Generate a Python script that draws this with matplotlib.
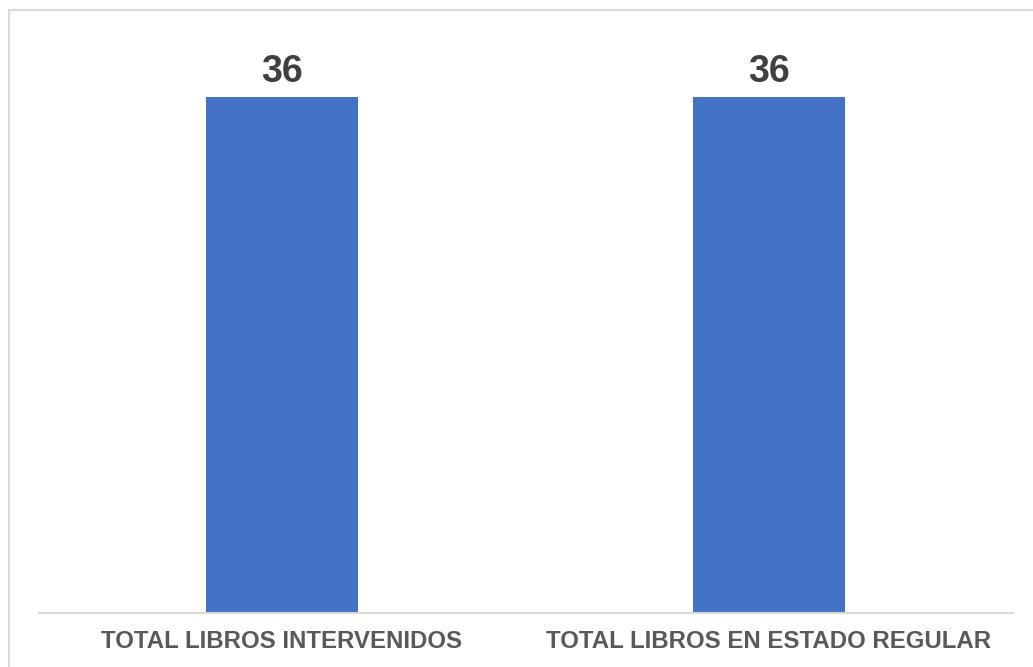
import matplotlib.pyplot as plt
from matplotlib.patches import Rectangle

categories = ["TOTAL LIBROS INTERVENIDOS", "TOTAL LIBROS EN ESTADO REGULAR"]
values = [36, 36]

W, H = 1033, 667
fig = plt.figure(figsize=(W / 100, H / 100), dpi=100)
plt.rcParams['font.family'] = ['Liberation Sans', 'DejaVu Sans']

# chart border (cropped on right/bottom in the original)
fig.patches.append(Rectangle((9 / W, -0.05), 1.1, 1 - 10 / H + 0.05,
                             transform=fig.transFigure, fill=False,
                             edgecolor='#d9d9d9', lw=1.5))

ax_left, ax_right = 38.5, 1012.5
ax_bottom, ax_top = 613, 20
ax = fig.add_axes([ax_left / W, (H - ax_bottom) / H,
                   (ax_right - ax_left) / W, (ax_bottom - ax_top) / H])

x = range(len(categories))
bars = ax.bar(x, values, width=0.312, color='#4472C4')
ax.set_xlim(-0.5, len(categories) - 0.5)
ax.set_ylim(0, 36 * (ax_bottom - ax_top) / (ax_bottom - 97))

for b, v in zip(bars, values):
    ax.annotate(str(v), (b.get_x() + b.get_width() / 2, v),
                xytext=(0, 5), textcoords='offset points',
                ha='center', va='bottom', fontsize=27, fontweight='bold',
                color='#404040')

ax.set_xticks(list(x))
ax.set_xticklabels(categories, fontsize=17.3, fontweight='bold', color='#595959')
ax.tick_params(axis='x', length=0, pad=12)
ax.set_yticks([])
for s in ['top', 'right', 'left']:
    ax.spines[s].set_visible(False)
ax.spines['bottom'].set_color('#d9d9d9')
ax.spines['bottom'].set_linewidth(1.5)

fig.savefig('out.png', dpi=100)
